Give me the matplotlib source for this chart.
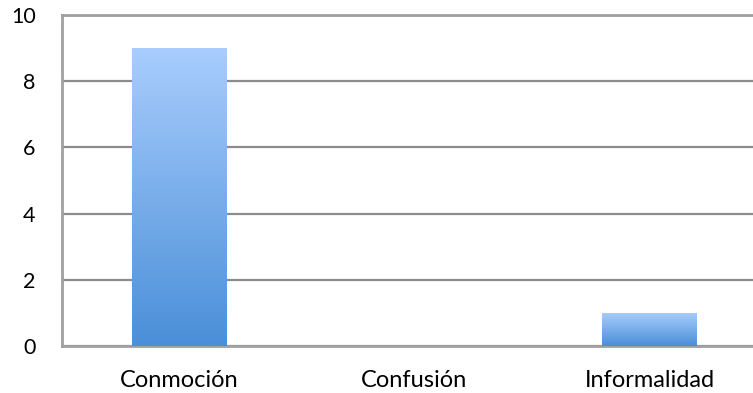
import numpy as np
import matplotlib
matplotlib.use("Agg")
import matplotlib.pyplot as plt
from matplotlib.colors import LinearSegmentedColormap

categories = ["Conmoción", "Confusión", "Informalidad"]
values = [9, 0, 1]
yticks = [0, 2, 4, 6, 8, 10]

plt.rcParams["font.family"] = ["Lato", "DejaVu Sans"]

fig = plt.figure(figsize=(7.53, 3.93), dpi=100)
ax = fig.add_axes([62 / 753, 47 / 393, 705 / 753, 331 / 393])

x = np.arange(len(categories))
width = 0.404
cmap = LinearSegmentedColormap.from_list("bar", ["#4A8FD8", "#A9CDFD"])

ax.set_xlim(-0.5, len(categories) - 0.5)
ax.set_ylim(0, 10)

bars = ax.bar(x, values, width=width, color="none", zorder=3)
grad = np.linspace(0, 1, 256).reshape(-1, 1)
for b, v in zip(bars, values):
    if v <= 0:
        continue
    x0 = b.get_x()
    im = ax.imshow(grad, extent=[x0, x0 + width, 0, v], origin="lower",
                   cmap=cmap, aspect="auto", zorder=3)
    im.set_clip_path(b)

ax.set_yticks(yticks)
ax.set_xticks(x)
ax.set_xticklabels(categories, fontsize=17)
ax.tick_params(axis="y", labelsize=15.5, length=0, pad=19)
ax.tick_params(axis="x", length=0, pad=17)
ax.grid(axis="y", color="#8C8C8C", linewidth=1.6, zorder=1)
ax.set_axisbelow(True)
for s in ["left", "top", "bottom"]:
    ax.spines[s].set_color("#A0A0A0")
    ax.spines[s].set_linewidth(2)
ax.spines["right"].set_visible(False)
ax.set_xlim(-0.5, len(categories) - 0.5)
ax.set_ylim(0, 10)

fig.savefig("out.png", dpi=100)
